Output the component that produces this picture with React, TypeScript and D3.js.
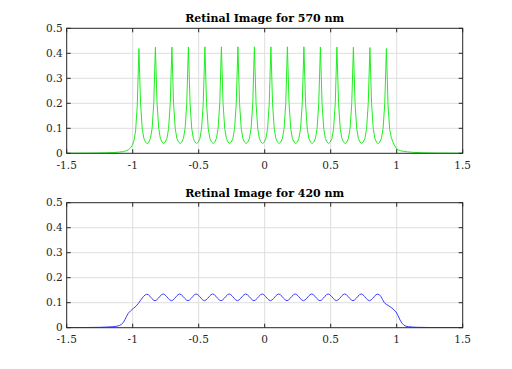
import React from 'react';
import * as d3 from 'd3';

const W = 512;
const H = 369;

const xTicks = [-1.5, -1, -0.5, 0, 0.5, 1, 1.5];
const xTickLabels = ['-1.5', '-1', '-0.5', '0', '0.5', '1', '1.5'];
const yTicks = [0, 0.1, 0.2, 0.3, 0.4, 0.5];
const yTickLabels = ['0', '0.1', '0.2', '0.3', '0.4', '0.5'];

// ---- 570 nm (green) ----
const greenLeftX = [-1.5, -1.4, -1.3, -1.2, -1.15, -1.1, -1.07, -1.05, -1.03, -1.0155, -1.003, -0.9905, -0.978, -0.9655];
const greenLeftY = [0.0004, 0.0006, 0.001, 0.002, 0.003, 0.005, 0.007, 0.01, 0.015, 0.022, 0.032, 0.05, 0.09, 0.19];
// sampled every 0.0125 starting at the first peak
const greenCoreX0 = -0.953;
const greenCoreStep = 0.0125;
const greenCoreY = [
  0.419, 0.2, 0.1, 0.06, 0.045, 0.038, 0.045, 0.06, 0.1, 0.2,
  0.424, 0.2, 0.1, 0.06, 0.045, 0.039, 0.045, 0.06, 0.1, 0.2,
  0.425, 0.2, 0.1, 0.06, 0.045, 0.039, 0.045, 0.06, 0.1, 0.2,
  0.425, 0.2, 0.1, 0.06, 0.045, 0.039, 0.045, 0.06, 0.1, 0.2,
  0.426, 0.2, 0.1, 0.06, 0.045, 0.039, 0.045, 0.06, 0.1, 0.2,
  0.426, 0.2, 0.1, 0.06, 0.045, 0.039, 0.045, 0.06, 0.1, 0.2,
  0.426, 0.2, 0.1, 0.06, 0.045, 0.039, 0.045, 0.06, 0.1, 0.2,
  0.426, 0.2, 0.1, 0.06, 0.045, 0.039, 0.045, 0.06, 0.1, 0.2,
  0.426, 0.2, 0.1, 0.06, 0.045, 0.039, 0.045, 0.06, 0.1, 0.2,
  0.426, 0.2, 0.1, 0.06, 0.045, 0.039, 0.045, 0.06, 0.1, 0.2,
  0.426, 0.2, 0.1, 0.06, 0.045, 0.039, 0.045, 0.06, 0.1, 0.2,
  0.425, 0.2, 0.1, 0.06, 0.045, 0.039, 0.045, 0.06, 0.1, 0.2,
  0.425, 0.2, 0.1, 0.06, 0.045, 0.039, 0.045, 0.06, 0.1, 0.2,
  0.424, 0.2, 0.1, 0.06, 0.045, 0.039, 0.045, 0.06, 0.1, 0.2,
  0.423, 0.2, 0.1, 0.06, 0.045, 0.038, 0.045, 0.06, 0.1, 0.2,
  0.419,
];
const greenRightX = [0.9345, 0.947, 0.9595, 0.972, 0.9845, 0.997, 1.0095, 1.03, 1.05, 1.08, 1.12, 1.2, 1.3, 1.4, 1.5];
const greenRightY = [0.19, 0.095, 0.062, 0.045, 0.03, 0.02, 0.014, 0.01, 0.008, 0.006, 0.004, 0.002, 0.001, 0.0006, 0.0004];

// ---- 420 nm (blue) ----
const blueLeftX = [-1.5, -1.35, -1.25, -1.2, -1.15, -1.12, -1.1, -1.085, -1.07, -1.058, -1.046, -1.033, -1.015, -0.995, -0.975, -0.957, -0.94, -0.92, -0.906];
const blueLeftY = [0.0003, 0.0008, 0.0015, 0.0025, 0.004, 0.006, 0.009, 0.013, 0.022, 0.033, 0.046, 0.058, 0.068, 0.077, 0.086, 0.097, 0.11, 0.124, 0.131];
const blueCoreX0 = -0.894;
const blueCoreStep = 0.0125;
const blueCoreY = [
  0.134, 0.132, 0.1255, 0.1175, 0.111, 0.108, 0.111, 0.1175, 0.1255, 0.132,
  0.135, 0.132, 0.1255, 0.1175, 0.111, 0.108, 0.111, 0.1175, 0.1255, 0.132,
  0.135, 0.132, 0.1255, 0.1175, 0.111, 0.108, 0.111, 0.1175, 0.1255, 0.132,
  0.135, 0.132, 0.1255, 0.1175, 0.111, 0.108, 0.111, 0.1175, 0.1255, 0.132,
  0.135, 0.132, 0.1255, 0.1175, 0.111, 0.108, 0.111, 0.1175, 0.1255, 0.132,
  0.135, 0.132, 0.1255, 0.1175, 0.111, 0.108, 0.111, 0.1175, 0.1255, 0.132,
  0.135, 0.132, 0.1255, 0.1175, 0.111, 0.108, 0.111, 0.1175, 0.1255, 0.132,
  0.135, 0.132, 0.1255, 0.1175, 0.111, 0.108, 0.111, 0.1175, 0.1255, 0.132,
  0.135, 0.132, 0.1255, 0.1175, 0.111, 0.108, 0.111, 0.1175, 0.1255, 0.132,
  0.135, 0.132, 0.1255, 0.1175, 0.111, 0.108, 0.111, 0.1175, 0.1255, 0.132,
  0.135, 0.132, 0.1255, 0.1175, 0.111, 0.108, 0.111, 0.1175, 0.1255, 0.132,
  0.135, 0.132, 0.1255, 0.1175, 0.111, 0.108, 0.111, 0.1175, 0.1255, 0.132,
  0.135, 0.132, 0.1255, 0.1175, 0.111, 0.108, 0.111, 0.1175, 0.1255, 0.132,
  0.135, 0.132, 0.1255, 0.1175, 0.111, 0.108, 0.111, 0.1175, 0.1255, 0.132,
  0.134,
];
const blueRightX = [0.8685, 0.881, 0.8935, 0.906, 0.92, 0.935, 0.95, 0.965, 0.98, 0.995, 1.01, 1.025, 1.04, 1.055, 1.07, 1.09, 1.12, 1.16, 1.25, 1.35, 1.5];
const blueRightY = [0.132, 0.124, 0.112, 0.1, 0.094, 0.089, 0.084, 0.078, 0.071, 0.063, 0.048, 0.031, 0.018, 0.01, 0.006, 0.004, 0.0025, 0.0015, 0.0008, 0.0004, 0.0003];

type Pt = [number, number];

function joinSeries(lx: number[], ly: number[], x0: number, step: number, cy: number[], rx: number[], ry: number[]): Pt[] {
  const pts: Pt[] = [];
  lx.forEach((x, i) => pts.push([x, ly[i]]));
  cy.forEach((y, i) => pts.push([x0 + i * step, y]));
  rx.forEach((x, i) => pts.push([x, ry[i]]));
  return pts;
}

const greenPts = joinSeries(greenLeftX, greenLeftY, greenCoreX0, greenCoreStep, greenCoreY, greenRightX, greenRightY);
const bluePts = joinSeries(blueLeftX, blueLeftY, blueCoreX0, blueCoreStep, blueCoreY, blueRightX, blueRightY);

const AX_LEFT = 66.7;
const AX_RIGHT = 462.7;
const AX_H = 125;

const FONT = "'DejaVu Serif', serif";

function Panel({ top, title, pts, color, id }: { top: number; title: string; pts: Pt[]; color: string; id: string }) {
  const x = d3.scaleLinear().domain([-1.5, 1.5]).range([AX_LEFT, AX_RIGHT]);
  const y = d3.scaleLinear().domain([0, 0.5]).range([top + AX_H, top]);
  const line = d3.line<Pt>().x(d => x(d[0])).y(d => y(d[1]));
  const tickLen = 4;
  const axisColor = '#262626';
  return (
    <g>
      <defs>
        <clipPath id={id}>
          <rect x={AX_LEFT} y={top} width={AX_RIGHT - AX_LEFT} height={AX_H} />
        </clipPath>
      </defs>
      <rect x={AX_LEFT} y={top} width={AX_RIGHT - AX_LEFT} height={AX_H} fill="#fff" />
      {xTicks.slice(1, -1).map(t => (
        <line key={'gx' + t} x1={x(t)} x2={x(t)} y1={top} y2={top + AX_H} stroke="#dedede" strokeWidth={1} />
      ))}
      {yTicks.slice(1, -1).map(t => (
        <line key={'gy' + t} x1={AX_LEFT} x2={AX_RIGHT} y1={y(t)} y2={y(t)} stroke="#dedede" strokeWidth={1} />
      ))}
      <path d={line(pts) || ''} fill="none" stroke={color} strokeWidth={1} clipPath={`url(#${id})`} strokeLinejoin="round" />
      <rect x={AX_LEFT} y={top} width={AX_RIGHT - AX_LEFT} height={AX_H} fill="none" stroke={axisColor} strokeWidth={1} />
      {xTicks.map(t => (
        <g key={'tx' + t}>
          <line x1={x(t)} x2={x(t)} y1={top + AX_H} y2={top + AX_H - tickLen} stroke={axisColor} />
          <line x1={x(t)} x2={x(t)} y1={top} y2={top + tickLen} stroke={axisColor} />
        </g>
      ))}
      {yTicks.map(t => (
        <g key={'ty' + t}>
          <line x1={AX_LEFT} x2={AX_LEFT + tickLen} y1={y(t)} y2={y(t)} stroke={axisColor} />
          <line x1={AX_RIGHT} x2={AX_RIGHT - tickLen} y1={y(t)} y2={y(t)} stroke={axisColor} />
        </g>
      ))}
      {xTicks.map((t, i) => (
        <text key={'lx' + t} x={x(t)} y={top + AX_H + 15.5} textAnchor="middle" fontSize={10.5} fontFamily={FONT} fill="#262626">
          {xTickLabels[i]}
        </text>
      ))}
      {yTicks.map((t, i) => (
        <text key={'ly' + t} x={AX_LEFT - 4} y={y(t) + 3.7} textAnchor="end" fontSize={10.5} fontFamily={FONT} fill="#262626">
          {yTickLabels[i]}
        </text>
      ))}
      <text x={(AX_LEFT + AX_RIGHT) / 2} y={top - 6} textAnchor="middle" fontSize={11} fontWeight="bold" fontFamily={FONT} fill="#000">
        {title}
      </text>
    </g>
  );
}

export default function App() {
  return (
    <svg width={W} height={H} style={{ position: 'absolute', left: 0, top: 0, background: '#fff' }}>
      <rect width={W} height={H} fill="#fff" />
      <Panel top={28.3} title="Retinal Image for 570 nm" pts={greenPts} color="#1fee1f" id="clipTop" />
      <Panel top={202.7} title="Retinal Image for 420 nm" pts={bluePts} color="#3c3cff" id="clipBottom" />
    </svg>
  );
}
